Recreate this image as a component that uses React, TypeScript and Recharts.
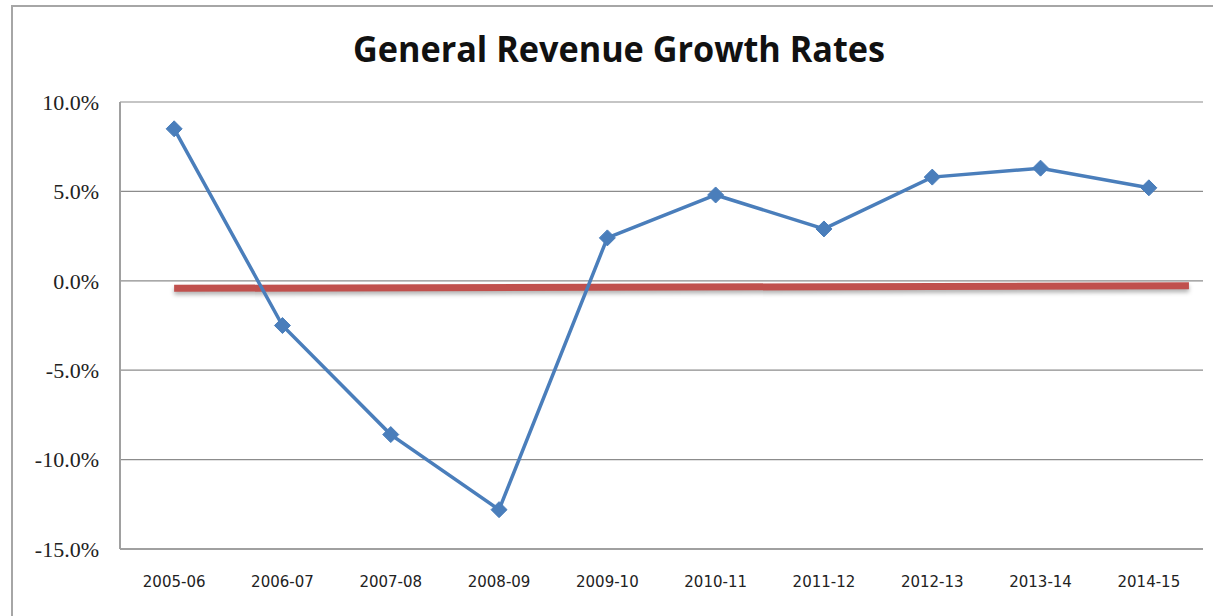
import { LineChart, Line, XAxis, YAxis, CartesianGrid } from 'recharts';

const years = ['2005-06', '2006-07', '2007-08', '2008-09', '2009-10', '2010-11', '2011-12', '2012-13', '2013-14', '2014-15'];
const growth = [8.5, -2.5, -8.6, -12.8, 2.4, 4.8, 2.9, 5.8, 6.3, 5.2];
const yTicks = [-15, -10, -5, 0, 5, 10];

// hand-drawn red trend bar in the original (start / end position and level)
const trendX = [0, 9.37];
const trendY = [-0.42, -0.28];

const data = years.map((year, i) => ({ idx: i, year, growth: growth[i] }));
const trendData = trendX.map((x, i) => ({ idx: x, trend: trendY[i] }));

const Diamond = (props: any) => {
  const { cx, cy } = props;
  if (cx == null || cy == null) return null;
  const r = 8;
  return (
    <path
      d={`M${cx},${cy - r} L${cx + r},${cy} L${cx},${cy + r} L${cx - r},${cy} Z`}
      fill="#4A7EBB"
      stroke="#4A7EBB"
      strokeWidth={1}
    />
  );
};

export default function App() {
  return (
    <div style={{ position: 'fixed', left: 0, top: 0, width: 1213, height: 616, overflow: 'hidden', background: '#fff' }}>
      <div style={{ position: 'absolute', left: 11, top: 5, width: 1400, height: 800, border: '2px solid #a6a6a6' }} />
      <svg width={1213} height={80} style={{ position: 'absolute', left: 0, top: 0 }}>
        <text
          x={619}
          y={62}
          textAnchor="middle"
          textLength={532}
          lengthAdjust="spacingAndGlyphs"
          style={{ fontFamily: '"Open Sans", sans-serif', fontWeight: 700, fontSize: 35, fill: '#111' }}
        >
          General Revenue Growth Rates
        </text>
      </svg>
      <div style={{ position: 'absolute', left: 0, top: 0 }}>
        <LineChart width={1213} height={616} data={data} margin={{ top: 102, right: 10, bottom: 36, left: 10 }}>
          <CartesianGrid vertical={false} stroke="#8c8c8c" strokeWidth={1.2} />
          <XAxis
            dataKey="idx"
            type="number"
            domain={[-0.5, 9.5]}
            ticks={years.map((_, i) => i)}
            tickFormatter={(v: number) => years[v]}
            interval={0}
            height={31}
            tickSize={0}
            tickMargin={27}
            axisLine={{ stroke: '#a0a0a0', strokeWidth: 2 }}
            tick={{ fontFamily: '"DejaVu Sans", sans-serif', fontSize: 15, fill: '#222' }}
            allowDuplicatedCategory={false}
          />
          <YAxis
            type="number"
            domain={[-15, 10]}
            ticks={yTicks}
            interval={0}
            width={110}
            tickSize={0}
            tickMargin={21}
            tickFormatter={(v: number) => `${v.toFixed(1)}%`}
            axisLine={{ stroke: '#a0a0a0', strokeWidth: 2 }}
            tick={{ fontFamily: '"Liberation Serif", serif', fontSize: 22, fill: '#222' }}
          />
          <Line
            data={trendData}
            dataKey="trend"
            stroke="#C0504D"
            strokeWidth={7}
            dot={false}
            activeDot={false}
            isAnimationActive={false}
            style={{ filter: 'drop-shadow(0px 3px 2px rgba(0,0,0,0.3))' }}
          />
          <Line
            dataKey="growth"
            stroke="#4A7EBB"
            strokeWidth={3.5}
            dot={<Diamond />}
            activeDot={false}
            isAnimationActive={false}
          />
        </LineChart>
      </div>
    </div>
  );
}
